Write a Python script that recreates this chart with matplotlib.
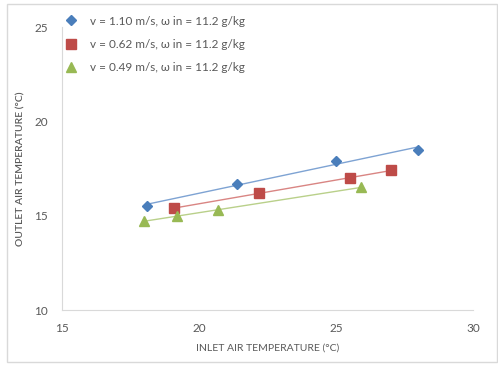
import matplotlib.pyplot as plt
import numpy as np
from matplotlib.patches import Rectangle

x_110 = [18.1, 21.4, 25.0, 28.0]
y_110 = [15.5, 16.7, 17.9, 18.5]
x_062 = [19.1, 22.2, 25.5, 27.0]
y_062 = [15.4, 16.2, 17.0, 17.4]
x_049 = [18.0, 19.2, 20.7, 25.9]
y_049 = [14.7, 15.0, 15.3, 16.5]

labels = ["v = 1.10 m/s, \u03c9 in = 11.2 g/kg",
          "v = 0.62 m/s, \u03c9 in = 11.2 g/kg",
          "v = 0.49 m/s, \u03c9 in = 11.2 g/kg"]
colors = ["#4A7EBB", "#BE4B48", "#98B954"]
line_colors = ["#7EA3D3", "#D98583", "#B9D08A"]
markers = ["D", "s", "^"]
sizes = [5.5, 7, 7]

plt.rcParams["font.family"] = ["Lato", "DejaVu Sans"]
txt = "#595959"

fig = plt.figure(figsize=(4.98, 3.66), dpi=100)
ax = fig.add_axes([0.1245, 0.153, 0.8255, 0.773])

series = [(x_110, y_110), (x_062, y_062), (x_049, y_049)]
for (xs, ys), lab, c, lc, m, s in zip(series, labels, colors, line_colors, markers, sizes):
    xs = np.array(xs)
    k, b = np.polyfit(xs, ys, 1)
    ax.plot([xs.min(), xs.max()], [k * xs.min() + b, k * xs.max() + b], color=lc, lw=1, zorder=1)
    ax.plot(xs, ys, linestyle="none", marker=m, markersize=s, color=c, label=lab, zorder=2)

ax.set_xlim(15, 30)
ax.set_ylim(10, 25)
ax.set_xticks([15, 20, 25, 30])
ax.set_yticks([10, 15, 20, 25])
ax.tick_params(length=0, labelsize=8.5, colors=txt)
ax.tick_params(axis="y", pad=10)
ax.tick_params(axis="x", pad=9)
for side in ["top", "right"]:
    ax.spines[side].set_visible(False)
for side in ["left", "bottom"]:
    ax.spines[side].set_color("#D9D9D9")
    ax.spines[side].set_linewidth(0.8)

ax.set_xlabel("INLET AIR TEMPERATURE (\u00b0C)", fontsize=7.5, color=txt, labelpad=7)
ax.set_ylabel("OUTLET AIR TEMPERATURE (\u00b0C)", fontsize=7.5, color=txt, fontweight="semibold", labelpad=6)

leg = ax.legend(loc="upper left", bbox_to_anchor=(-0.02, 1.07), frameon=False, fontsize=8.5,
                labelcolor=txt, handletextpad=0.8, handlelength=1.6, labelspacing=1.05,
                borderaxespad=0.3)

fig.patches.append(Rectangle((0.014, 0.011), 0.984, 0.978, transform=fig.transFigure,
                             fill=False, edgecolor="#D9D9D9", lw=1))

fig.savefig("out.png", dpi=100)
